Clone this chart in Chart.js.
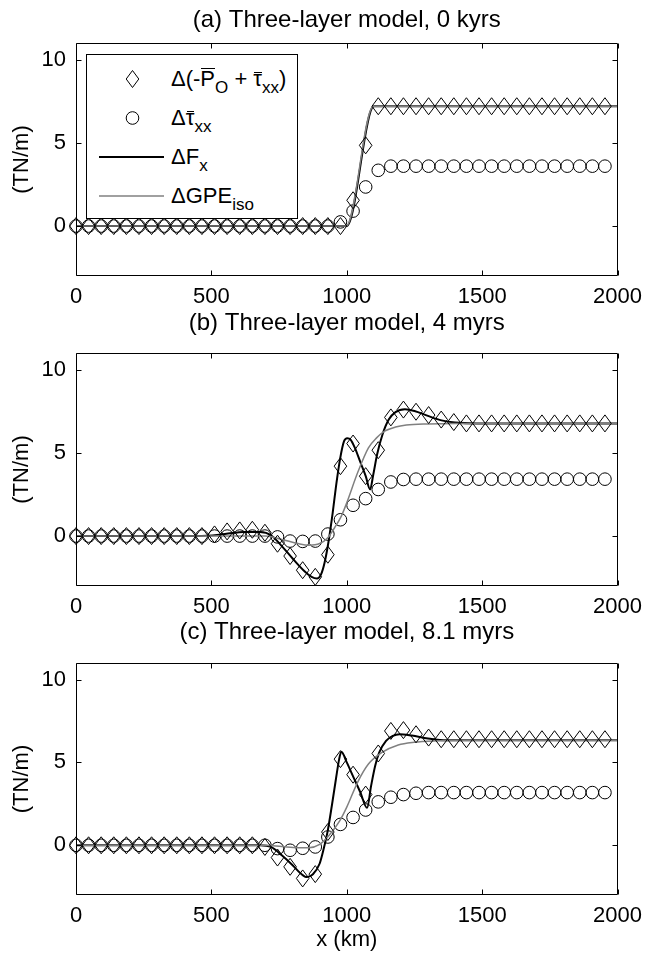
<!DOCTYPE html>
<html>
<head>
<meta charset="utf-8">
<script src="https://cdn.jsdelivr.net/npm/chart.js@4.4.1/dist/chart.umd.min.js"></script>
<style>
  body { margin: 0; background: #fff; }
  #wrap { position: relative; width: 650px; height: 956px; }
  #wrap canvas { position: absolute; left: 0; }
  .legend {
    position: absolute; left: 86px; top: 54px; width: 210px; height: 163px;
    border: 1px solid #000; background: #fff; z-index: 5;
    font-family: "Liberation Sans", Arial, sans-serif; font-size: 22px; color: #000;
  }
  .legend svg { position: absolute; left: 0; }
  .legend .lab { position: absolute; left: 84px; line-height: 26px; white-space: nowrap; }
  .legend sub { font-size: 17px; vertical-align: -7px; line-height: 0; }
  .ovP, .ovT { position: relative; display: inline-block; }
  .ovP::after, .ovT::after { content: ''; position: absolute; left: 1px; right: 0; border-top: 1.5px solid #000; }
  .ovP::after { top: 2px; }
  .ovT::after { top: 6px; }
</style>
</head>
<body>
<div id="wrap">
  <canvas id="chartA" width="650" height="312" style="top:0px"></canvas>
  <canvas id="chartB" width="650" height="321" style="top:300px"></canvas>
  <canvas id="chartC" width="650" height="346" style="top:610px"></canvas>
  <div class="legend">
    <svg width="90" height="160">
      <path d="M45.5 15.5 L51.8 24 L45.5 32.5 L39.2 24 Z" fill="none" stroke="#000" stroke-width="1"/>
      <circle cx="45.5" cy="63" r="6.3" fill="none" stroke="#000" stroke-width="1"/>
      <line x1="12" y1="102" x2="77" y2="102" stroke="#000" stroke-width="2"/>
      <line x1="12" y1="141" x2="77" y2="141" stroke="#808080" stroke-width="1.5"/>
    </svg>
    <span class="lab" style="top:11px">&Delta;(-<span class="ovP">P</span><sub>O</sub> + <span class="ovT">&tau;</span><sub>xx</sub>)</span>
    <span class="lab" style="top:50px">&Delta;<span class="ovT">&tau;</span><sub>xx</sub></span>
    <span class="lab" style="top:89px">&Delta;F<sub>x</sub></span>
    <span class="lab" style="top:128px">&Delta;GPE<sub>iso</sub></span>
  </div>
</div>
<script>
// marker positions along the profile (km)
const xMarkers = [0, 46.5, 93, 139.5, 186, 232.6, 279.1, 325.6, 372.1, 418.6, 465.1,
  511.6, 558.1, 604.7, 651.2, 697.7, 744.2, 790.7, 837.2, 883.7, 930.2, 976.7,
  1023.3, 1069.8, 1116.3, 1162.8, 1209.3, 1255.8, 1302.3, 1348.8, 1395.3, 1441.9,
  1488.4, 1534.9, 1581.4, 1627.9, 1674.4, 1720.9, 1767.4, 1814, 1860.5, 1907, 1953.5];
const xTicks = [0, 500, 1000, 1500, 2000];
const yTicks = [0, 5, 10];

// (a) 0 kyrs
const obA = [0, 0, 0, 0, 0, 0, 0, 0, 0, 0, 0, 0, 0, 0, 0, 0, 0, 0, 0, 0, 0, 0,
  1.55, 4.85, 7.2, 7.2, 7.2, 7.2, 7.2, 7.2, 7.2, 7.2, 7.2, 7.2, 7.2, 7.2, 7.2, 7.2, 7.2, 7.2, 7.2, 7.2, 7.2];
const tauA = [0, 0, 0, 0, 0, 0, 0, 0, 0, 0, 0, 0, 0, 0, 0, 0, 0, 0, 0, 0, 0,
  0.25, 0.9, 2.35, 3.35, 3.6, 3.6, 3.6, 3.6, 3.6, 3.6, 3.6, 3.6, 3.6, 3.6, 3.6, 3.6, 3.6, 3.6, 3.6, 3.6, 3.6, 3.6];
const fxA = [[0, 0], [1000, 0], [1100, 7.2], [2000, 7.2]];
const gpeA = [[0, 0], [998, 0], [1098, 7.2], [2000, 7.2]];

// (b) 4 myrs
const obB = [0, 0, 0, 0, 0, 0, 0, 0, 0, 0, 0, 0.1, 0.28, 0.34, 0.38, 0.2, -0.46, -1.2, -2.05, -2.45, -1.12,
  4.2, 5.56, 3.6, 5.16, 7.13, 7.6, 7.47, 7.27, 7.0, 6.85,
  6.77, 6.77, 6.77, 6.77, 6.77, 6.77, 6.77, 6.77, 6.77, 6.77, 6.77, 6.77];
const tauB = [0, 0, 0, 0, 0, 0, 0, 0, 0, 0, 0, 0, 0, 0, 0, 0, -0.05, -0.3, -0.32, -0.3, 0.12,
  0.98, 1.85, 2.25, 2.8, 3.25, 3.4,
  3.42, 3.42, 3.42, 3.42, 3.42, 3.42, 3.42, 3.42, 3.42, 3.42, 3.42, 3.42, 3.42, 3.42, 3.42, 3.42];
const fxB = [[0, 0], [450, 0], [550, 0.12], [620, 0.25], [680, 0.24], [720, 0.05], [760, -0.6], [800, -1.35],
  [840, -2.05], [870, -2.45], [890, -2.55], [905, -2.3], [918, -1.6], [932, -0.4], [948, 1.4], [962, 3.2],
  [976, 4.7], [990, 5.7], [1002, 5.88], [1014, 5.8], [1030, 5.3], [1050, 4.45], [1070, 3.6], [1086, 2.8],
  [1098, 3.7], [1112, 4.9], [1132, 6.1], [1155, 7.0], [1180, 7.45], [1215, 7.62], [1250, 7.52], [1300, 7.22],
  [1350, 6.95], [1400, 6.82], [1480, 6.77], [2000, 6.77]];
const gpeB = [[0, 0], [700, 0], [760, -0.2], [820, -0.45], [860, -0.55], [900, -0.45], [930, -0.1], [955, 0.5],
  [980, 1.2], [1000, 2.0], [1040, 3.8], [1080, 5.3], [1110, 5.9], [1140, 6.3], [1180, 6.55], [1220, 6.67],
  [1300, 6.74], [1400, 6.77], [2000, 6.77]];

// (c) 8.1 myrs
const obC = [0, 0, 0, 0, 0, 0, 0, 0, 0, 0, 0, 0, 0, 0, 0, -0.1, -0.74, -1.3, -2.0, -1.74, 0.8,
  5.2, 4.26, 3.06, 5.54, 6.9, 6.95, 6.7, 6.5,
  6.4, 6.4, 6.4, 6.4, 6.4, 6.4, 6.4, 6.4, 6.4, 6.4, 6.4, 6.4, 6.4, 6.4];
const tauC = [0, 0, 0, 0, 0, 0, 0, 0, 0, 0, 0, 0, 0, 0, 0, 0, -0.2, -0.3, -0.18, -0.1, 0.5,
  1.26, 1.68, 2.13, 2.62, 2.9, 3.06, 3.14,
  3.18, 3.18, 3.18, 3.18, 3.18, 3.18, 3.18, 3.18, 3.18, 3.18, 3.18, 3.18, 3.18, 3.18, 3.18];
const fxC = [[0, 0], [680, 0], [720, -0.1], [760, -0.6], [800, -1.2], [830, -1.7], [853, -1.92], [875, -1.75],
  [900, -1.1], [915, -0.2], [930, 0.9], [945, 2.4], [960, 4.0], [972, 5.2], [980, 5.64], [1000, 5.0],
  [1025, 4.1], [1050, 3.2], [1075, 2.26], [1090, 3.6], [1105, 4.8], [1120, 5.6], [1145, 6.3], [1170, 6.6],
  [1195, 6.7], [1240, 6.62], [1300, 6.45], [1370, 6.34], [2000, 6.34]];
const gpeC = [[0, 0], [700, 0], [760, -0.08], [820, -0.15], [860, -0.15], [900, 0.05], [935, 0.6], [975, 1.5],
  [1000, 2.3], [1040, 3.8], [1080, 4.9], [1130, 5.6], [1190, 6.05], [1250, 6.22], [1320, 6.3], [1450, 6.34],
  [2000, 6.34]];

const FONT = "'Liberation Sans', Arial, sans-serif";

// open diamonds (taller than wide, like matlab's 'd'), placed at the points chart.js computed
const diamondPlugin = {
  id: 'diamonds',
  afterDatasetsDraw(chart) {
    const ctx = chart.ctx;
    chart.data.datasets.forEach((ds, i) => {
      if (!ds.diamond) return;
      ctx.save();
      ctx.strokeStyle = '#000';
      ctx.lineWidth = 1;
      chart.getDatasetMeta(i).data.forEach(p => {
        ctx.beginPath();
        ctx.moveTo(p.x, p.y - 8.5);
        ctx.lineTo(p.x + 6.3, p.y);
        ctx.lineTo(p.x, p.y + 8.5);
        ctx.lineTo(p.x - 6.3, p.y);
        ctx.closePath();
        ctx.stroke();
      });
      ctx.restore();
    });
  }
};

// box round the plot with inward ticks on all four sides
const boxPlugin = {
  id: 'box',
  afterDraw(chart) {
    const { ctx, chartArea: a, scales } = chart;
    const L = Math.round(a.left) + 0.5, R = Math.round(a.right) - 0.5;
    const T = Math.round(a.top) + 0.5, B = Math.round(a.bottom) - 0.5;
    ctx.save();
    ctx.strokeStyle = '#000';
    ctx.lineWidth = 1;
    ctx.beginPath();
    ctx.rect(L, T, R - L, B - T);
    xTicks.forEach(v => {
      const p = Math.round(scales.x.getPixelForValue(v)) + 0.5;
      ctx.moveTo(p, B); ctx.lineTo(p, B - 5);
      ctx.moveTo(p, T); ctx.lineTo(p, T + 5);
    });
    yTicks.forEach(v => {
      const p = Math.round(scales.y.getPixelForValue(v)) + 0.5;
      ctx.moveTo(L, p); ctx.lineTo(L + 5, p);
      ctx.moveTo(R, p); ctx.lineTo(R - 5, p);
    });
    ctx.stroke();
    ctx.restore();
  }
};

function pts(xs, ys) {
  return xs.map((x, i) => ({ x: x, y: ys[i] }));
}
function pairs(arr) {
  return arr.map(p => ({ x: p[0], y: p[1] }));
}

function makePanel(id, title, ob, tau, fx, gpe, lay) {
  const ctx = document.getElementById(id);
  return new Chart(ctx, {
    type: 'line',
    data: {
      datasets: [
        {
          data: pairs(gpe), borderColor: '#808080', borderWidth: 1.5,
          pointRadius: 0, fill: false, cubicInterpolationMode: 'monotone'
        },
        {
          data: pairs(fx), borderColor: '#000', borderWidth: 2,
          pointRadius: 0, fill: false, cubicInterpolationMode: 'monotone'
        },
        {
          data: pts(xMarkers, tau), showLine: false, pointStyle: 'circle',
          pointRadius: 6.3, borderColor: '#000', borderWidth: 1,
          backgroundColor: 'rgba(0,0,0,0)', clip: false
        },
        {
          data: pts(xMarkers, ob), showLine: false, pointRadius: 0,
          borderColor: '#000', diamond: true, clip: false
        }
      ]
    },
    options: {
      responsive: false,
      animation: false,
      events: [],
      layout: { padding: { left: 0, right: 26, top: 0, bottom: 0 } },
      plugins: {
        legend: { display: false },
        tooltip: { enabled: false },
        title: {
          display: true,
          text: title,
          color: '#000',
          fullSize: false,
          font: { family: FONT, size: 24, weight: 'normal', lineHeight: 1.2 },
          padding: { top: lay.tTop, bottom: lay.tBot }
        }
      },
      scales: {
        x: {
          type: 'linear', min: 0, max: 2000,
          grid: { display: false, drawTicks: false }, border: { display: false },
          afterBuildTicks: s => { s.ticks = xTicks.map(v => ({ value: v })); },
          afterFit: s => { s.height = lay.xH; },
          ticks: {
            color: '#000', padding: lay.xPad, maxRotation: 0,
            font: { family: FONT, size: 22 }, callback: v => String(v)
          },
          title: {
            display: lay.xTitle, text: 'x (km)', color: '#000',
            font: { family: FONT, size: 22 }, padding: { top: 0, bottom: 3 }
          }
        },
        y: {
          type: 'linear', min: -3, max: 11,
          grid: { display: false, drawTicks: false }, border: { display: false },
          afterBuildTicks: s => { s.ticks = yTicks.map(v => ({ value: v })); },
          afterFit: s => { s.width = 76; },
          ticks: { color: '#000', padding: 10, font: { family: FONT, size: 22 }, callback: v => String(v) },
          title: {
            display: true, text: '(TN/m)', color: '#000',
            font: { family: FONT, size: 22 }, padding: { top: 9, bottom: 0 }
          }
        }
      }
    },
    plugins: [diamondPlugin, boxPlugin]
  });
}

makePanel('chartA', '(a) Three-layer model, 0 kyrs', obA, tauA, fxA, gpeA,
  { tTop: 5.6, tBot: 8.6, xH: 36, xPad: 8, xTitle: false });
makePanel('chartB', '(b) Three-layer model, 4 myrs', obB, tauB, fxB, gpeB,
  { tTop: 8.6, tBot: 15.6, xH: 35, xPad: 8, xTitle: false });
makePanel('chartC', '(c) Three-layer model, 8.1 myrs', obC, tauC, fxC, gpeC,
  { tTop: 7.6, tBot: 16.6, xH: 61, xPad: 8, xTitle: true });
</script>
</body>
</html>
